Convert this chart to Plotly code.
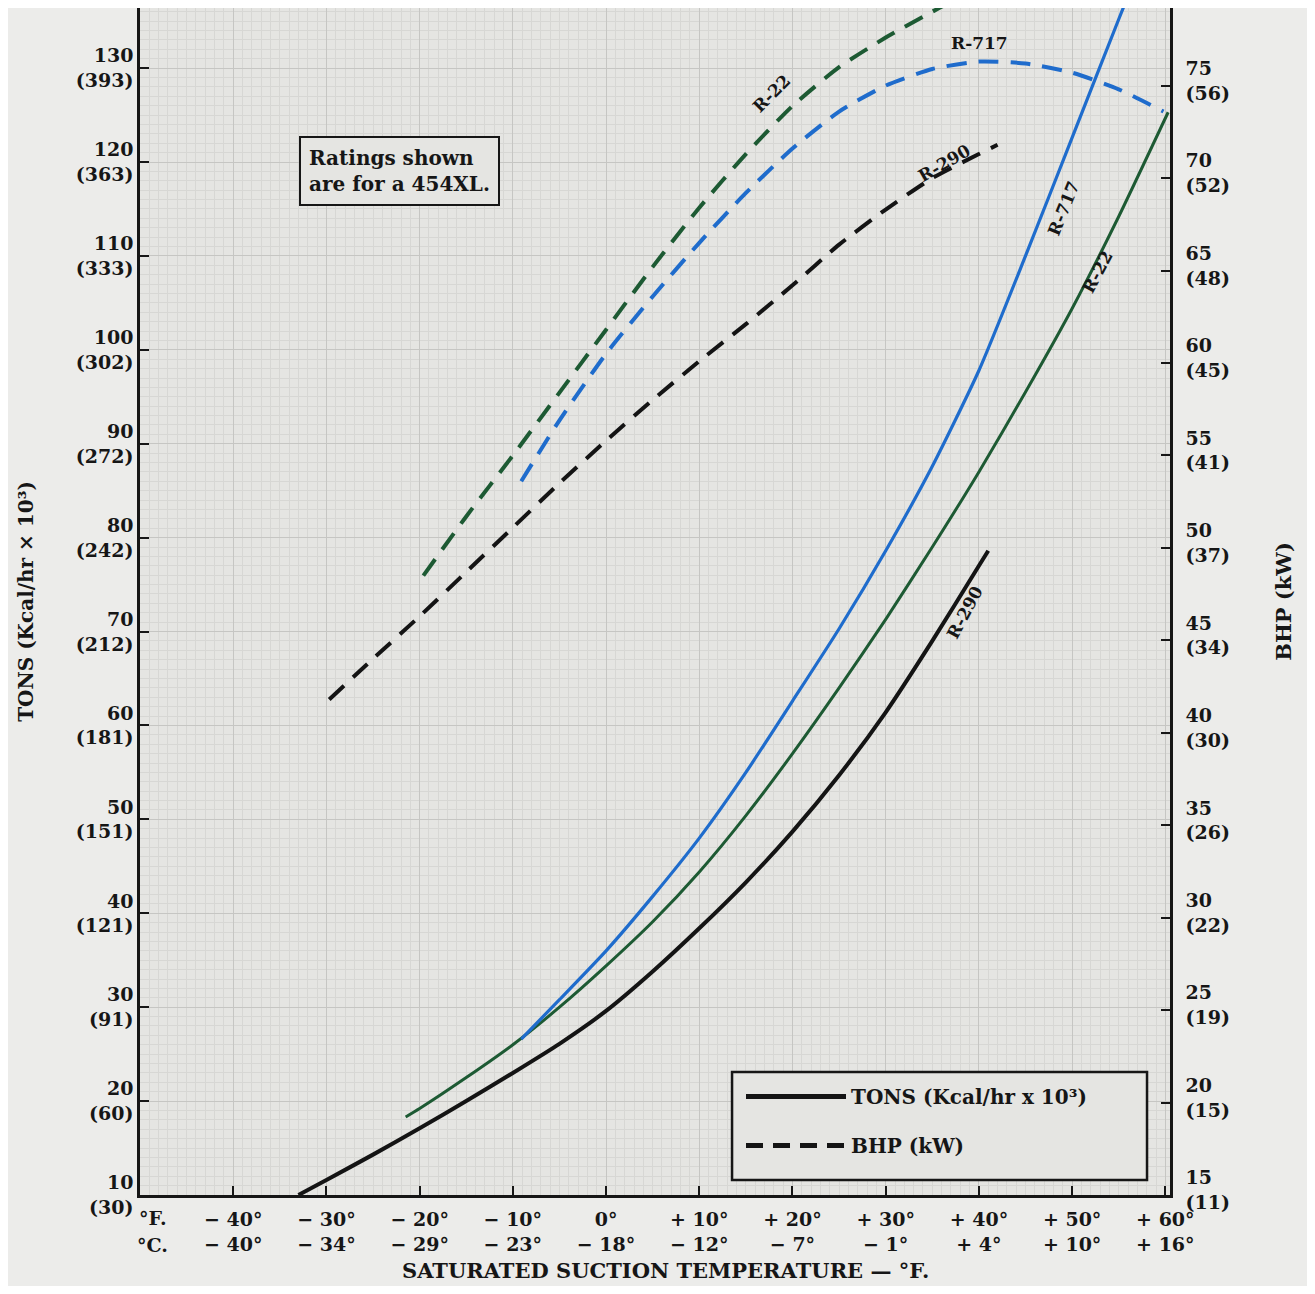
import plotly.graph_objects as go

# ---------------- data ----------------
temp_f_ticks = [-40, -30, -20, -10, 0, 10, 20, 30, 40, 50, 60]
temp_f_text = ["− 40°", "− 30°", "− 20°", "− 10°", "0°", "+ 10°", "+ 20°", "+ 30°", "+ 40°", "+ 50°", "+ 60°"]
temp_c_text = ["− 40°", "− 34°", "− 29°", "− 23°", "− 18°", "− 12°", "− 7°", "− 1°", "+ 4°", "+ 10°", "+ 16°"]

tons_ticks = [10, 20, 30, 40, 50, 60, 70, 80, 90, 100, 110, 120, 130]
kcal_ticks = [30, 60, 91, 121, 151, 181, 212, 242, 272, 302, 333, 363, 393]
bhp_ticks = [15, 20, 25, 30, 35, 40, 45, 50, 55, 60, 65, 70, 75]
kw_ticks = [11, 15, 19, 22, 26, 30, 34, 37, 41, 45, 48, 52, 56]

# capacity (TONS) curves, solid
r290_tons_t = [-33.0, -30, -25, -20, -15, -10, -5, 0, 5, 10, 15, 20, 25, 30, 35, 40, 41.0]
r290_tons = [10.0, 11.6, 14.3, 17.1, 20.0, 23.0, 26.1, 29.6, 33.8, 38.4, 43.3, 48.7, 54.7, 61.4, 69.0, 77.0, 78.6]
r22_tons_t = [-21.5, -20, -15, -10, -5, 0, 5, 10, 15, 20, 25, 30, 35, 40, 45, 50, 55, 60.3]
r22_tons = [18.3, 19.2, 22.5, 26.0, 30.0, 34.4, 39.1, 44.4, 50.4, 57.0, 64.0, 71.3, 79.0, 87.0, 95.5, 104.4, 114.2, 125.3]
r717_tons_t = [-9.1, -5, 0, 5, 10, 15, 20, 25, 30, 35, 40, 45, 50, 55, 57.0]
r717_tons = [26.6, 30.8, 36.0, 41.8, 48.0, 55.0, 62.6, 70.3, 78.6, 87.6, 97.8, 110.0, 122.6, 135.2, 140.2]

# power (BHP) curves, dashed
r290_bhp_t = [-29.7, -25, -20, -15, -10, -5, 0, 5, 10, 15, 20, 25, 30, 35, 40, 42.0]
r290_bhp = [41.8, 44.0, 46.3, 48.7, 51.1, 53.5, 55.8, 58.0, 60.1, 62.1, 64.2, 66.4, 68.3, 70.0, 71.3, 71.8]
r22_bhp_t = [-19.6, -15, -10, -5, 0, 5, 10, 15, 20, 25, 30, 35, 38.0]
r22_bhp = [48.5, 51.7, 55.0, 58.4, 61.8, 65.2, 68.4, 71.3, 73.9, 76.0, 77.6, 79.0, 79.8]
r717_bhp_t = [-9.1, -5, 0, 5, 10, 15, 20, 25, 30, 35, 40, 45, 50, 55, 59.8]
r717_bhp = [53.6, 56.9, 60.5, 63.6, 66.5, 69.2, 71.6, 73.6, 75.0, 75.9, 76.3, 76.2, 75.7, 74.8, 73.6]

# ---------------- style ----------------
FONT = "DejaVu Serif"
INK = "#161616"
BLACK = "#141414"
GREEN = "#1d5a33"
BLUE = "#1f6ccc"
PLOT_BG = "#e5e5e2"
PAPER_BG = "#ececea"
DASH = "20px,12px"

fig = go.Figure()

def solid(x, y, color, width=3.2):
    fig.add_trace(go.Scatter(x=x, y=y, mode="lines", xaxis="x", yaxis="y",
                             line=dict(color=color, width=width, shape="spline", smoothing=0.6),
                             showlegend=False, hoverinfo="skip"))

def dashed(x, y, color, width=4):
    fig.add_trace(go.Scatter(x=x, y=y, mode="lines", xaxis="x", yaxis="y2",
                             line=dict(color=color, width=width, dash=DASH, shape="spline", smoothing=0.6),
                             showlegend=False, hoverinfo="skip"))

solid(r290_tons_t, r290_tons, BLACK, 4.0)
solid(r22_tons_t, r22_tons, GREEN, 3.0)
solid(r717_tons_t, r717_tons, BLUE, 3.2)
dashed(r290_bhp_t, r290_bhp, BLACK)
dashed(r22_bhp_t, r22_bhp, GREEN)
dashed(r717_bhp_t, r717_bhp, BLUE)

# legend entries (placed on the Celsius label axis so that it is drawn)
fig.add_trace(go.Scatter(x=[None], y=[None], mode="lines", name="TONS (Kcal/hr x 10³)", xaxis="x2", yaxis="y",
                         line=dict(color=BLACK, width=5), legendgroup="a"))
fig.add_trace(go.Scatter(x=[None], y=[None], mode="lines", name="BHP (kW)", xaxis="x2", yaxis="y",
                         line=dict(color=BLACK, width=5, dash="17px,10px"), legendgroup="b"))

tick_font = dict(family=FONT, size=19, color=INK, weight="bold")
XRANGE = [-50, 60.5]

fig.update_layout(
    width=1299, height=1278,
    margin=dict(l=132, r=137, t=0, b=91, autoexpand=False),
    paper_bgcolor=PAPER_BG, plot_bgcolor=PLOT_BG,
    font=dict(family=FONT, color=INK, size=19),
    xaxis=dict(
        range=XRANGE, tickmode="array", tickvals=temp_f_ticks, ticktext=temp_f_text,
        tickfont=tick_font, ticks="inside", ticklen=9, tickwidth=2, tickcolor=INK,
        ticklabelstandoff=5, automargin=False,
        showline=True, linecolor=INK, linewidth=2.5, zeroline=False,
        showgrid=True, gridcolor="#c6c6c3", gridwidth=1.2,
        minor=dict(tickmode="linear", tick0=0, dtick=1, showgrid=True, gridcolor="#d7d7d4", gridwidth=0.6),
    ),
    xaxis2=dict(
        range=XRANGE, overlaying="x", anchor="y", side="bottom", tickmode="array",
        tickvals=temp_f_ticks, ticktext=temp_c_text, tickfont=tick_font, automargin=False,
        ticks="", ticklabelstandoff=36, showline=False, showgrid=False, zeroline=False,
    ),
    yaxis=dict(
        range=[10, 136.4], tickmode="array", tickvals=tons_ticks,
        ticktext=[f"{a}<br>({b})" for a, b in zip(tons_ticks, kcal_ticks)],
        tickfont=tick_font, ticks="inside", ticklen=9, tickwidth=2, tickcolor=INK, automargin=False,
        showline=True, linecolor=INK, linewidth=2.5, zeroline=False,
        showgrid=True, gridcolor="#c6c6c3", gridwidth=1.2,
        minor=dict(tickmode="linear", tick0=0, dtick=1, showgrid=True, gridcolor="#d7d7d4", gridwidth=0.6),
        title=dict(text="TONS (Kcal/hr × 10³)", font=dict(family=FONT, size=20, color=INK, weight="bold"),
                   standoff=37),
    ),
    yaxis2=dict(
        range=[15, 79.2], overlaying="y", side="right", tickmode="array", tickvals=bhp_ticks,
        ticktext=[f"{a}<br>({b})" for a, b in zip(bhp_ticks, kw_ticks)],
        tickfont=tick_font, ticks="inside", ticklen=9, tickwidth=2, tickcolor=INK, automargin=False,
        ticklabelshift=-5, ticklabelstandoff=9,
        showline=True, linecolor=INK, linewidth=2.5, zeroline=False, showgrid=False,
        title=dict(text="BHP (kW)", font=dict(family=FONT, size=21, color=INK, weight="bold"), standoff=48),
    ),
    legend=dict(
        x=0.5835, y=0.0994, xanchor="left", yanchor="top",
        bgcolor="rgba(0,0,0,0)", borderwidth=0,
        font=dict(family=FONT, size=20, color=INK, weight="bold"),
        itemwidth=100, tracegroupgap=20, traceorder="grouped",
    ),
    showlegend=True,
    shapes=[dict(type="rect", xref="paper", yref="paper", x0=0.5748, x1=0.9777, y0=0.0126, y1=0.1036,
                 line=dict(color=INK, width=2.5), fillcolor=PLOT_BG, layer="above")],
)

lab_font = dict(family=FONT, size=17, color=INK, weight="bold")
annos = [
    dict(x=0.2524, y=0.8627, xref="paper", yref="paper", xanchor="center", yanchor="middle",
         text="Ratings shown<br>are for a 454XL.",
         align="left", showarrow=False, bordercolor=INK, borderwidth=2, borderpad=8,
         bgcolor=PLOT_BG, font=dict(family=FONT, size=20, color=INK, weight="bold")),
    dict(x=0.0126, y=-0.0195, xref="paper", yref="paper", text="°F.", align="left",
         showarrow=False, xanchor="center", yanchor="middle", font=tick_font),
    dict(x=0.0126, y=-0.0425, xref="paper", yref="paper", text="°C.", align="left",
         showarrow=False, xanchor="center", yanchor="middle", font=tick_font),
    # x-axis title
    dict(x=0.51, y=-0.0637, xref="paper", yref="paper", text="SATURATED SUCTION TEMPERATURE — °F.",
         showarrow=False, xanchor="center", yanchor="middle",
         font=dict(family=FONT, size=21, color=INK, weight="bold")),
    # curve labels
    dict(x=17.8, y=74.6, xref="x", yref="y2", text="R-22", textangle=-45, showarrow=False, font=lab_font),
    dict(x=40.1, y=77.3, xref="x", yref="y2", text="R-717", textangle=0, showarrow=False, font=lab_font),
    dict(x=36.3, y=70.8, xref="x", yref="y2", text="R-290", textangle=-30, showarrow=False, font=lab_font),
    dict(x=49.1, y=115.1, xref="x", yref="y", text="R-717", textangle=-68, showarrow=False, font=lab_font),
    dict(x=52.7, y=108.3, xref="x", yref="y", text="R-22", textangle=-62, showarrow=False, font=lab_font),
    dict(x=38.5, y=72.1, xref="x", yref="y", text="R-290", textangle=-62, showarrow=False, font=lab_font),
]
fig.update_layout(annotations=annos)

fig.write_html("out.html")
